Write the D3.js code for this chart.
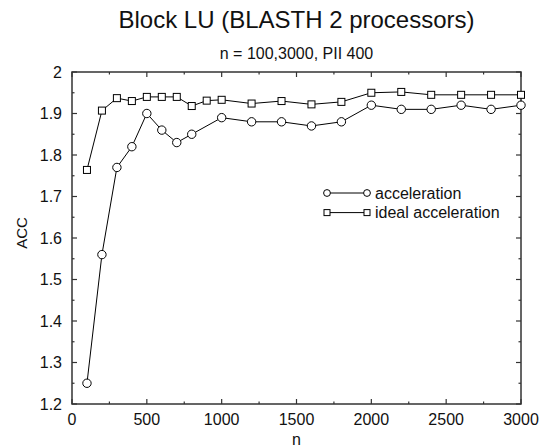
<!DOCTYPE html>
<html>
<head>
<meta charset="utf-8">
<script src="https://cdn.jsdelivr.net/npm/d3@7"></script>
<style>
  body { margin: 0; background: #fff; }
  text { font-family: "Liberation Sans", Arial, sans-serif; fill: #111; }
</style>
</head>
<body>
<svg id="chart" width="542" height="447"></svg>
<script>
var accN = [100, 200, 300, 400, 500, 600, 700, 800, 1000, 1200, 1400, 1600, 1800, 2000, 2200, 2400, 2600, 2800, 3000];
var accValues = [1.25, 1.56, 1.77, 1.82, 1.90, 1.86, 1.83, 1.85, 1.89, 1.88, 1.88, 1.87, 1.88, 1.92, 1.91, 1.91, 1.92, 1.91, 1.92];

var idealN = [100, 200, 300, 400, 500, 600, 700, 800, 900, 1000, 1200, 1400, 1600, 1800, 2000, 2200, 2400, 2600, 2800, 3000];
var idealValues = [1.764, 1.907, 1.937, 1.930, 1.940, 1.940, 1.940, 1.918, 1.931, 1.933, 1.924, 1.930, 1.922, 1.928, 1.950, 1.952, 1.945, 1.945, 1.945, 1.945];

var xTicks = [0, 500, 1000, 1500, 2000, 2500, 3000];
var yTicks = [1.2, 1.3, 1.4, 1.5, 1.6, 1.7, 1.8, 1.9, 2];
var seriesNames = ["acceleration", "ideal acceleration"];

var svg = d3.select("#chart");
var plotL = 72, plotR = 521, plotT = 72, plotB = 404;

var x = d3.scaleLinear().domain([0, 3000]).range([plotL, plotR]);
var y = d3.scaleLinear().domain([1.2, 2]).range([plotB, plotT]);

var minorX = d3.range(0, 3001, 250);
var minorY = d3.range(1.2, 2.001, 0.05);

// ticks point inward on all four sides
var frame = svg.append("g").attr("stroke", "#333").attr("stroke-width", 1.2);
minorX.forEach(function(v) {
  var len = xTicks.indexOf(v) >= 0 ? 5 : 2.5;
  frame.append("line").attr("x1", x(v)).attr("x2", x(v)).attr("y1", plotB).attr("y2", plotB - len);
  frame.append("line").attr("x1", x(v)).attr("x2", x(v)).attr("y1", plotT).attr("y2", plotT + len);
});
minorY.forEach(function(v, i) {
  var len = i % 2 === 0 ? 5 : 2.5;
  frame.append("line").attr("y1", y(v)).attr("y2", y(v)).attr("x1", plotL).attr("x2", plotL + len);
  frame.append("line").attr("y1", y(v)).attr("y2", y(v)).attr("x1", plotR).attr("x2", plotR - len);
});
frame.append("rect")
    .attr("x", plotL).attr("y", plotT)
    .attr("width", plotR - plotL).attr("height", plotB - plotT)
    .attr("fill", "none").attr("stroke-width", 1.5);

svg.selectAll(".xlab")
  .data(xTicks)
  .enter().append("text")
    .attr("x", d => x(d))
    .attr("y", plotB + 21)
    .attr("font-size", 16)
    .style("text-anchor", "middle")
    .text(d => d);

svg.selectAll(".ylab")
  .data(yTicks)
  .enter().append("text")
    .attr("x", plotL - 10)
    .attr("y", d => y(d))
    .attr("dy", "0.36em")
    .attr("font-size", 16)
    .style("text-anchor", "end")
    .text(d => d3.format(".1f")(d).replace(/\.0$/, ""));

svg.append("text")
    .attr("x", (plotL + plotR) / 2).attr("y", 28)
    .attr("font-size", 24)
    .style("text-anchor", "middle")
    .text("Block LU (BLASTH 2 processors)");

svg.append("text")
    .attr("x", (plotL + plotR) / 2).attr("y", 59)
    .attr("font-size", 16)
    .style("text-anchor", "middle")
    .text("n = 100,3000, PII 400");

svg.append("text")
    .attr("x", (plotL + plotR) / 2).attr("y", 445)
    .attr("font-size", 16)
    .style("text-anchor", "middle")
    .text("n");

svg.append("text")
    .attr("transform", "translate(27, 233) rotate(-90)")
    .attr("font-size", 15)
    .style("text-anchor", "middle")
    .text("ACC");

var line = d3.line().x(d => x(d[0])).y(d => y(d[1]));
var accData = d3.zip(accN, accValues);
var idealData = d3.zip(idealN, idealValues);

svg.append("path").datum(idealData)
    .attr("d", line).attr("fill", "none").attr("stroke", "#000").attr("stroke-width", 1);
svg.append("path").datum(accData)
    .attr("d", line).attr("fill", "none").attr("stroke", "#000").attr("stroke-width", 1);

svg.selectAll(".sq")
  .data(idealData)
  .enter().append("rect")
    .attr("x", d => x(d[0]) - 3.5).attr("y", d => y(d[1]) - 3.5)
    .attr("width", 7).attr("height", 7)
    .attr("fill", "#fff").attr("stroke", "#000").attr("stroke-width", 1);

svg.selectAll(".circ")
  .data(accData)
  .enter().append("circle")
    .attr("cx", d => x(d[0])).attr("cy", d => y(d[1]))
    .attr("r", 4.2)
    .attr("fill", "#fff").attr("stroke", "#000").attr("stroke-width", 1);

// legend
var legend = svg.append("g");
seriesNames.forEach(function(name, i) {
  var ly = 193 + i * 19.6;
  legend.append("line")
      .attr("x1", 327).attr("x2", 367).attr("y1", ly).attr("y2", ly)
      .attr("stroke", "#000").attr("stroke-width", 1);
  [327, 367].forEach(function(lx) {
    if (i === 0) {
      legend.append("circle").attr("cx", lx).attr("cy", ly).attr("r", 3.4)
          .attr("fill", "#fff").attr("stroke", "#000");
    } else {
      legend.append("rect").attr("x", lx - 3).attr("y", ly - 3).attr("width", 6).attr("height", 6)
          .attr("fill", "#fff").attr("stroke", "#000");
    }
  });
  legend.append("text")
      .attr("x", 375).attr("y", ly).attr("dy", "0.36em")
      .attr("font-size", 16)
      .text(name);
});
</script>
</body>
</html>
